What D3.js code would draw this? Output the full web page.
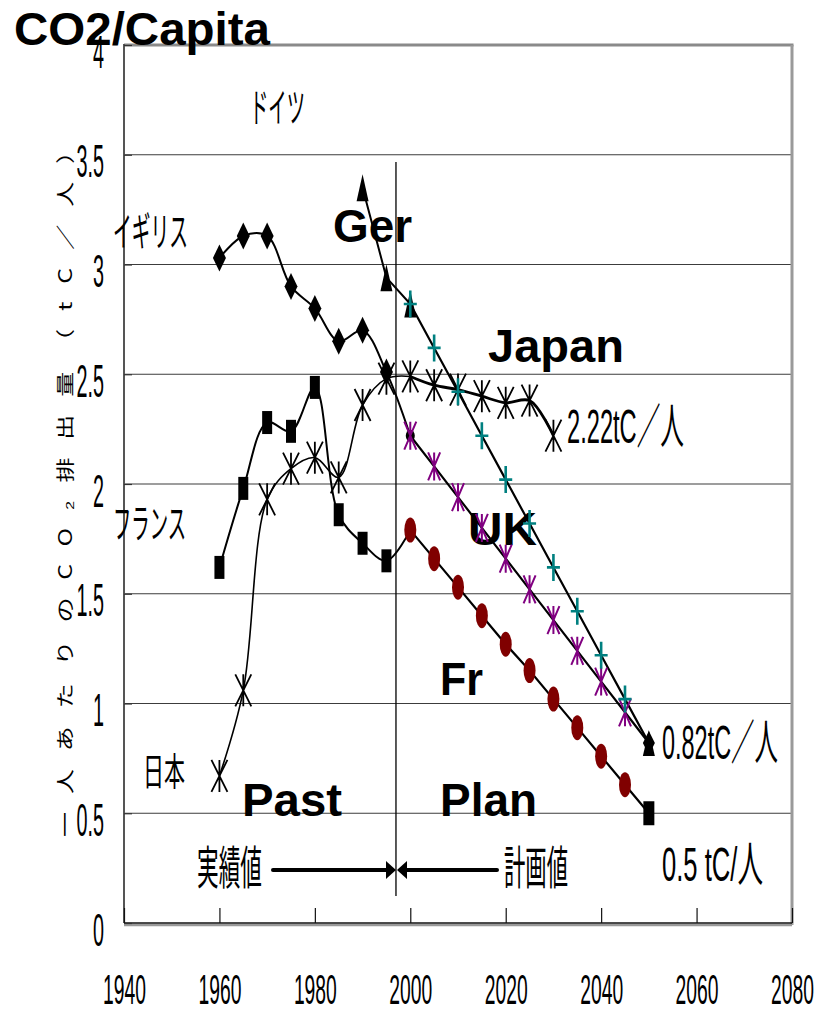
<!DOCTYPE html>
<html>
<head>
<meta charset="utf-8">
<script src="https://cdn.jsdelivr.net/npm/d3@7"></script>
<style>
  html, body { margin: 0; padding: 0; background: #fff; }
  svg { display: block; }
</style>
</head>
<body>
<svg id="chart" width="816" height="1010"></svg>
<script>
// ---- data -------------------------------------------------------------
const pastYears = [1960, 1965, 1970, 1975, 1980, 1985, 1990, 1995];
const planYears = [2000, 2005, 2010, 2015, 2020, 2025, 2030, 2035, 2040, 2045, 2050];

// Japan (日本)
const japanPast = [0.67, 1.06, 1.93, 2.07, 2.12, 2.03, 2.36, 2.48];
const japanPlanYears = [2000, 2005, 2010, 2015, 2020, 2025, 2030];
const japanPlan = [2.49, 2.45, 2.43, 2.40, 2.37, 2.38, 2.22];

// United Kingdom (イギリス)
const ukPastYears = [1960, 1965, 1970, 1975, 1980, 1985, 1990, 1995];
const ukPast = [3.03, 3.13, 3.13, 2.90, 2.80, 2.65, 2.70, 2.51];
const ukPlan = [2.22, 2.08, 1.94, 1.80, 1.66, 1.52, 1.38, 1.24, 1.10, 0.96, 0.82];

// France (フランス)
const francePast = [1.62, 1.98, 2.28, 2.24, 2.44, 1.86, 1.73, 1.65];
const francePlan = [1.79, 1.66, 1.53, 1.40, 1.27, 1.15, 1.02, 0.89, 0.76, 0.63, 0.50];

// Germany (ドイツ)
const germanyPastYears = [1990, 1995, 2000];
const germanyPast = [3.35, 2.94, 2.82];
const germanyPlan = [2.82, 2.62, 2.42, 2.22, 2.02, 1.82, 1.62, 1.42, 1.22, 1.02, 0.82];

// axes
const xTickValues = [1940, 1960, 1980, 2000, 2020, 2040, 2060, 2080];
const yTickValues = [0, 0.5, 1, 1.5, 2, 2.5, 3, 3.5, 4];
const yTickLabels = ["0", "0.5", "1", "1.5", "2", "2.5", "3", "3.5", "4"];
const boundaryYear = 1997;

// ---- setup ------------------------------------------------------------
const svg = d3.select("#chart");
const x = d3.scaleLinear().domain([1940, 2080]).range([124, 792]);
const y = d3.scaleLinear().domain([0, 4]).range([923, 45]);

const NARROW = "'Liberation Sans', Arial, 'Noto Sans CJK JP', sans-serif";
const CJK = "'Noto Sans CJK JP', 'Liberation Sans', sans-serif";
const BOLD = "'Liberation Sans', Arial, sans-serif";

const pts = (years, vals) => years.map((yr, i) => ({ year: yr, v: vals[i] }));

// ---- grid -------------------------------------------------------------
svg.append("g")
  .selectAll("line")
  .data(yTickValues.filter(v => v > 0 && v < 4))
  .join("line")
  .attr("x1", x(1940)).attr("x2", x(2080))
  .attr("y1", d => y(d)).attr("y2", d => y(d))
  .attr("stroke", "#3c3c3c").attr("stroke-width", 1.2);

// frame: grey top and right edges, dark left and bottom axes
svg.append("line").attr("x1", x(1940)).attr("x2", x(2080) + 1.5)
  .attr("y1", y(4)).attr("y2", y(4)).attr("stroke", "#8a8a8a").attr("stroke-width", 3);
svg.append("line").attr("x1", x(2080)).attr("x2", x(2080))
  .attr("y1", y(4)).attr("y2", y(0) + 2).attr("stroke", "#9a9a9a").attr("stroke-width", 3);
svg.append("line").attr("x1", x(1940)).attr("x2", x(1940))
  .attr("y1", y(4) - 1).attr("y2", y(0)).attr("stroke", "#555").attr("stroke-width", 2);
svg.append("line").attr("x1", x(1940)).attr("x2", x(2080))
  .attr("y1", y(0) + 2).attr("y2", y(0) + 2).attr("stroke", "#999").attr("stroke-width", 2.5);
svg.append("line").attr("x1", x(1940)).attr("x2", x(2080))
  .attr("y1", y(0)).attr("y2", y(0)).attr("stroke", "#111").attr("stroke-width", 1.5);

// ---- axes -------------------------------------------------------------
const yAxis = svg.append("g")
  .attr("transform", `translate(${x(1940)},0)`)
  .call(d3.axisLeft(y).tickValues(yTickValues).tickSize(-8)
    .tickFormat((d, i) => yTickLabels[i]));
yAxis.select(".domain").remove();
yAxis.selectAll(".tick line").attr("stroke", "#333").attr("stroke-width", 1.2);
yAxis.selectAll(".tick text")
  .attr("x", null).attr("dy", null)
  .attr("text-anchor", "end")
  .attr("fill", "#000")
  .style("font-family", NARROW)
  .style("font-size", "46px")
  .attr("transform", "translate(-20,22) scale(0.43,1)");

const xAxis = svg.append("g")
  .attr("transform", `translate(0,${y(0)})`)
  .call(d3.axisBottom(x).tickValues(xTickValues).tickSize(-15).tickFormat(d3.format("d")));
xAxis.select(".domain").remove();
xAxis.selectAll(".tick line").attr("stroke", "#111").attr("stroke-width", 1.2);
xAxis.selectAll(".tick text")
  .attr("y", null).attr("dy", null)
  .attr("text-anchor", "middle")
  .attr("fill", "#000")
  .style("font-family", NARROW)
  .style("font-size", "42px")
  .attr("transform", "translate(0,81) scale(0.46,1)");

// ---- text annotations (drawn under the series) --------------------------
function label(str, left, base, size, width, family, weight) {
  return svg.append("text")
    .attr("x", left).attr("y", base)
    .attr("font-family", family)
    .attr("font-weight", weight || "normal")
    .attr("font-size", size)
    .attr("textLength", width)
    .attr("lengthAdjust", "spacingAndGlyphs")
    .attr("fill", "#000")
    .text(str);
}

label("CO2/Capita", 14, 45, 47, 256, BOLD, "bold");

label("ドイツ", 250, 122, 40, 55, CJK);
label("イギリス", 113, 246, 40, 75, CJK);
label("フランス", 113, 538, 40, 73, CJK);
label("日本", 143, 785, 38, 42, CJK);

label("Ger", 333, 242, 46, 79, BOLD, "bold");
label("Japan", 488, 362, 46, 136, BOLD, "bold");
label("UK", 468, 545, 46, 69, BOLD, "bold");
label("Fr", 440, 695, 46, 43, BOLD, "bold");
label("Past", 242, 816, 46, 100, BOLD, "bold");
label("Plan", 440, 816, 46, 97, BOLD, "bold");

label("2.22tC／人", 567, 443, 48, 117, NARROW);
label("0.82tC／人", 662, 759, 48, 116, NARROW);
label("0.5 tC/人", 662, 881, 48, 101, NARROW);

label("実績値", 197, 884, 46, 65, CJK);
label("計画値", 504, 884, 46, 64, CJK);

// vertical axis title, reading bottom to top
svg.append("text")
  .attr("transform", "translate(72,488) rotate(-90) scale(1,0.75)")
  .attr("text-anchor", "middle")
  .attr("font-family", CJK)
  .attr("font-size", 25)
  .attr("textLength", 698)
  .attr("lengthAdjust", "spacing")
  .attr("fill", "#000")
  .text("一人あたりのCO₂排出量（tC／人）");

// ---- past / plan boundary with arrows ---------------------------------
const xb = x(boundaryYear);
svg.append("line").attr("x1", xb).attr("x2", xb).attr("y1", 162).attr("y2", 896)
  .attr("stroke", "#000").attr("stroke-width", 1.3);
const arrowY = 870;
svg.append("line").attr("x1", 273).attr("x2", xb - 8).attr("y1", arrowY).attr("y2", arrowY)
  .attr("stroke", "#000").attr("stroke-width", 4).attr("stroke-linecap", "round");
svg.append("path").attr("d", `M${xb},${arrowY} L${xb - 10},${arrowY - 9} L${xb - 10},${arrowY + 9}Z`).attr("fill", "#000");
svg.append("line").attr("x1", 497).attr("x2", xb + 10).attr("y1", arrowY).attr("y2", arrowY)
  .attr("stroke", "#000").attr("stroke-width", 4).attr("stroke-linecap", "round");
svg.append("path").attr("d", `M${xb + 1},${arrowY} L${xb + 11},${arrowY - 9} L${xb + 11},${arrowY + 9}Z`).attr("fill", "#000");

// ---- series -----------------------------------------------------------
const smooth = d3.line().x(d => x(d.year)).y(d => y(d.v)).curve(d3.curveCatmullRom.alpha(0.5));
const straight = d3.line().x(d => x(d.year)).y(d => y(d.v));

function drawLine(data, gen, width) {
  svg.append("path").datum(data).attr("d", gen)
    .attr("fill", "none").attr("stroke", "#000")
    .attr("stroke-width", width).attr("stroke-linejoin", "round");
}

const japanPastPts = pts(pastYears, japanPast);
const japanPlanPts = pts(japanPlanYears, japanPlan);
const ukPastPts = pts(ukPastYears, ukPast).concat([{ year: 2000, v: ukPlan[0] }]);
const ukPlanPts = pts(planYears, ukPlan);
const frPastPts = pts(pastYears, francePast).concat([{ year: 2000, v: francePlan[0] }]);
const frPlanPts = pts(planYears, francePlan);
const gePastPts = pts(germanyPastYears, germanyPast);
const gePlanPts = pts(planYears, germanyPlan);

drawLine(ukPastPts, smooth, 2);
drawLine(frPastPts, smooth, 2);
drawLine(japanPastPts.concat([japanPlanPts[0]]), smooth, 1.6);
drawLine(japanPlanPts, smooth, 2.8);
drawLine(gePastPts, straight, 2);
drawLine(gePlanPts, straight, 2.2);
drawLine(ukPlanPts, straight, 2.2);
drawLine(frPlanPts, straight, 2.2);

// marker shapes
const shapes = {
  diamond: (w, h) => `M0,${-h / 2}L${w / 2},0L0,${h / 2}L${-w / 2},0Z`,
  triangle: (w, h) => `M0,${-h / 2}L${w / 2},${h / 2}L${-w / 2},${h / 2}Z`,
  rect: (w, h) => `M${-w / 2},${-h / 2}H${w / 2}V${h / 2}H${-w / 2}Z`,
  star: (w, h) => `M${-w / 2},${-h / 2}L${w / 2},${h / 2}M${w / 2},${-h / 2}L${-w / 2},${h / 2}M0,${-h / 2}V${h / 2}`,
  plus: (w, h) => `M${-w / 2},0H${w / 2}M0,${-h / 2}V${h / 2}`,
  ellipse: (w, h) => `M${-w / 2},0A${w / 2},${h / 2} 0 1,0 ${w / 2},0A${w / 2},${h / 2} 0 1,0 ${-w / 2},0Z`
};

function drawMarkers(data, shape, w, h, fill, stroke, sw) {
  svg.append("g").selectAll("path").data(data).join("path")
    .attr("transform", d => `translate(${x(d.year)},${y(d.v)})`)
    .attr("d", shapes[shape](w, h))
    .attr("fill", fill)
    .attr("stroke", stroke)
    .attr("stroke-width", sw || 0);
}

// past markers
drawMarkers(ukPastPts.slice(0, -1), "diamond", 13, 27, "#000", "none");
drawMarkers(ukPastPts.slice(-1), "ellipse", 9, 12, "#000", "none");
drawMarkers(pts(pastYears, francePast), "rect", 10, 23, "#000", "none");
drawMarkers(gePastPts, "triangle", 12, 27, "#000", "none");
drawMarkers(japanPastPts, "star", 16, 32, "none", "#000", 1.8);

// plan markers
drawMarkers(japanPlanPts, "star", 16, 32, "none", "#000", 1.8);
drawMarkers(frPlanPts.slice(0, -1), "ellipse", 12, 25, "#800000", "none");
drawMarkers(ukPlanPts.slice(0, -1), "star", 12, 28, "none", "#800080", 2);
drawMarkers(gePlanPts.slice(0, -1), "plus", 13, 27, "none", "#008080", 2.6);

// 2050 end points
drawMarkers(ukPlanPts.slice(-1), "diamond", 12, 24, "#000", "none");
drawMarkers(gePlanPts.slice(-1), "triangle", 12, 26, "#000", "none");
drawMarkers(frPlanPts.slice(-1), "rect", 11, 24, "#000", "none");
</script>
</body>
</html>
